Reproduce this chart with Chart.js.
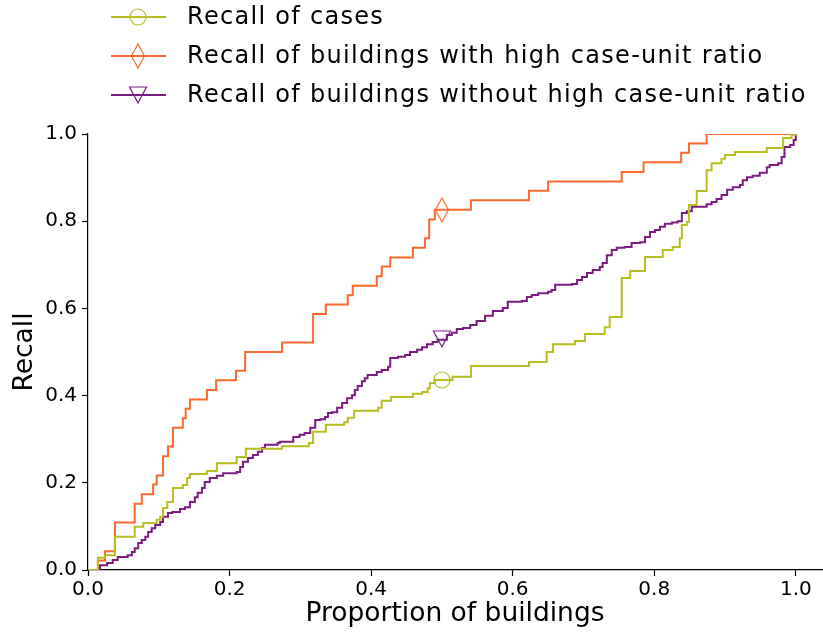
<!DOCTYPE html>
<html>
<head>
<meta charset="utf-8">
<script src="https://cdn.jsdelivr.net/npm/chart.js@4"></script>
<style>
  html, body { margin: 0; padding: 0; background: #fff; }
  #wrap { width: 823px; height: 633px; }
</style>
</head>
<body>
<div id="wrap"><canvas id="chart" width="823" height="633"></canvas></div>
<script>
// legend labels
const labels = [
  "Recall of cases",
  "Recall of buildings with high case-unit ratio",
  "Recall of buildings without high case-unit ratio"
]

// Recall of cases (step points: x where the step happens, new recall)
const casesX = [0, 0.014, 0.024, 0.038, 0.066, 0.078, 0.097, 0.102, 0.106, 0.112, 0.120, 0.134, 0.140, 0.144,
  0.168, 0.182, 0.210, 0.223, 0.274, 0.312, 0.318, 0.336, 0.362, 0.367, 0.376, 0.410, 0.415, 0.428, 0.459,
  0.472, 0.480, 0.483, 0.490, 0.515, 0.541, 0.623, 0.648, 0.657, 0.688, 0.702, 0.730, 0.737, 0.754, 0.766,
  0.787, 0.812, 0.826, 0.836, 0.839, 0.846, 0.849, 0.860, 0.874, 0.881, 0.895, 0.900, 0.914, 0.959, 0.982,
  0.994, 1.0]
const casesY = [0, 0.028, 0.034, 0.076, 0.099, 0.108, 0.115, 0.122, 0.142, 0.156, 0.188, 0.195, 0.211, 0.220,
  0.227, 0.245, 0.259, 0.278, 0.284, 0.291, 0.317, 0.333, 0.339, 0.349, 0.365, 0.372, 0.388, 0.397, 0.404,
  0.408, 0.417, 0.429, 0.436, 0.443, 0.468, 0.477, 0.500, 0.518, 0.525, 0.541, 0.557, 0.580, 0.670, 0.686,
  0.718, 0.734, 0.741, 0.761, 0.791, 0.798, 0.837, 0.869, 0.917, 0.933, 0.943, 0.952, 0.959, 0.968, 0.991,
  0.998, 1.0]

// Recall of buildings with high case-unit ratio
const highX = [0, 0.014, 0.024, 0.038, 0.066, 0.076, 0.092, 0.097, 0.106, 0.113, 0.120, 0.134, 0.138, 0.144,
  0.168, 0.181, 0.209, 0.222, 0.274, 0.318, 0.336, 0.367, 0.374, 0.408, 0.415, 0.427, 0.459, 0.476, 0.482,
  0.490, 0.541, 0.623, 0.650, 0.754, 0.785, 0.838, 0.849, 0.874, 1.0]
const highY = [0, 0.022, 0.043, 0.109, 0.152, 0.174, 0.196, 0.217, 0.261, 0.283, 0.326, 0.348, 0.370, 0.391,
  0.413, 0.435, 0.457, 0.500, 0.522, 0.587, 0.609, 0.630, 0.652, 0.674, 0.696, 0.717, 0.739, 0.761, 0.804,
  0.826, 0.848, 0.870, 0.891, 0.913, 0.935, 0.957, 0.978, 1.0, 1.0]

// Recall of buildings without high case-unit ratio
const otherX = [0, 0.017, 0.027, 0.035, 0.042, 0.056, 0.062, 0.066, 0.071, 0.076, 0.081, 0.085, 0.090, 0.095,
  0.102, 0.106, 0.113, 0.119, 0.130, 0.137, 0.144, 0.151, 0.155, 0.161, 0.165, 0.172, 0.182, 0.191, 0.210,
  0.215, 0.219, 0.226, 0.233, 0.240, 0.246, 0.250, 0.268, 0.271, 0.290, 0.299, 0.306, 0.314, 0.321, 0.328,
  0.335, 0.339, 0.345, 0.352, 0.359, 0.366, 0.373, 0.377, 0.381, 0.387, 0.391, 0.395, 0.408, 0.415, 0.424,
  0.427, 0.438, 0.448, 0.455, 0.465, 0.472, 0.479, 0.487, 0.494, 0.507, 0.514, 0.521, 0.530, 0.540, 0.549,
  0.561, 0.572, 0.586, 0.593, 0.613, 0.620, 0.627, 0.636, 0.650, 0.655, 0.660, 0.684, 0.691, 0.698, 0.705,
  0.713, 0.723, 0.727, 0.733, 0.740, 0.747, 0.758, 0.768, 0.780, 0.787, 0.794, 0.801, 0.808, 0.815, 0.825,
  0.833, 0.839, 0.846, 0.853, 0.874, 0.881, 0.888, 0.895, 0.903, 0.911, 0.921, 0.925, 0.931, 0.939, 0.949,
  0.959, 0.963, 0.975, 0.980, 0.984, 0.992, 0.997, 1.0]
const otherY = [0, 0.011, 0.016, 0.023, 0.030, 0.034, 0.041, 0.050, 0.062, 0.069, 0.076, 0.087, 0.096, 0.103,
  0.110, 0.122, 0.131, 0.133, 0.140, 0.144, 0.156, 0.167, 0.177, 0.188, 0.202, 0.211, 0.216, 0.222, 0.225,
  0.236, 0.248, 0.257, 0.264, 0.271, 0.280, 0.287, 0.291, 0.294, 0.305, 0.310, 0.314, 0.326, 0.344, 0.346,
  0.351, 0.360, 0.362, 0.372, 0.383, 0.394, 0.401, 0.413, 0.422, 0.433, 0.440, 0.447, 0.454, 0.459, 0.466,
  0.486, 0.489, 0.493, 0.500, 0.505, 0.511, 0.518, 0.523, 0.528, 0.539, 0.544, 0.553, 0.555, 0.562, 0.571,
  0.583, 0.594, 0.601, 0.615, 0.617, 0.626, 0.631, 0.635, 0.638, 0.642, 0.654, 0.656, 0.665, 0.672, 0.681,
  0.688, 0.695, 0.704, 0.722, 0.734, 0.739, 0.741, 0.750, 0.752, 0.764, 0.775, 0.780, 0.787, 0.794, 0.797,
  0.800, 0.819, 0.823, 0.833, 0.839, 0.844, 0.851, 0.860, 0.872, 0.878, 0.883, 0.894, 0.901, 0.904, 0.911,
  0.924, 0.929, 0.933, 0.947, 0.970, 0.975, 0.986, 1.0]

// single markers at half of the buildings
const markerX = [0.5, 0.5, 0.5]
const markerY = [0.436, 0.826, 0.53]

const xTicks = [0, 0.2, 0.4, 0.6, 0.8, 1.0]
const yTicks = [0, 0.2, 0.4, 0.6, 0.8, 1.0]

const colors = ["#b8bd23", "#fb6a2c", "#7b1c80"]
const FONT = "'DejaVu Sans', sans-serif"

function makeMarker(kind, color) {
  const c = document.createElement("canvas")
  c.width = 22
  c.height = 28
  const g = c.getContext("2d")
  g.strokeStyle = color
  g.lineWidth = 1.2
  g.beginPath()
  const cx = 11, cy = 14
  if (kind === "circle") {
    g.arc(cx, cy, 8, 0, Math.PI * 2)
  } else if (kind === "thin_diamond") {
    g.moveTo(cx, cy - 12)
    g.lineTo(cx + 6.5, cy)
    g.lineTo(cx, cy + 12)
    g.lineTo(cx - 6.5, cy)
    g.closePath()
  } else {
    g.moveTo(cx - 8.5, cy - 8)
    g.lineTo(cx + 8.5, cy - 8)
    g.lineTo(cx, cy + 8)
    g.closePath()
  }
  g.stroke()
  return c
}

const markers = [
  makeMarker("circle", colors[0]),
  makeMarker("thin_diamond", colors[1]),
  makeMarker("triangle_down", colors[2])
]

function pts(xs, ys) {
  return xs.map((x, i) => ({ x: x, y: ys[i] }))
}

const series = [pts(casesX, casesY), pts(highX, highY), pts(otherX, otherY)]

const datasets = []
series.forEach((d, i) => {
  datasets.push({
    label: labels[i],
    data: d,
    borderColor: colors[i],
    borderWidth: 2,
    stepped: "before",
    pointRadius: 0,
    fill: false
  })
})
markerX.forEach((x, i) => {
  datasets.push({
    label: labels[i] + " marker",
    data: [{ x: x, y: markerY[i] }],
    showLine: false,
    pointStyle: markers[i],
    pointRadius: 8,
    borderColor: colors[i]
  })
})

// legend drawn at fixed place, line + marker like the original figure
const lineLegend = {
  id: "lineLegend",
  afterDraw(chart) {
    const ctx = chart.ctx
    const rows = [17, 56, 95]
    ctx.save()
    labels.forEach((text, i) => {
      const y = rows[i]
      ctx.strokeStyle = colors[i]
      ctx.lineWidth = 2
      ctx.beginPath()
      ctx.moveTo(111, y)
      ctx.lineTo(166, y)
      ctx.stroke()
      ctx.drawImage(markers[i], 138 - 11, y - 14)
      ctx.fillStyle = "#000"
      ctx.font = "24px " + FONT
      ctx.letterSpacing = "1.3px"
      ctx.textBaseline = "middle"
      ctx.textAlign = "left"
      ctx.fillText(text, 187, y + 1)
    })
    ctx.restore()
  }
}

const ctx = document.getElementById("chart").getContext("2d")
new Chart(ctx, {
  type: "line",
  data: { datasets: datasets },
  plugins: [lineLegend],
  options: {
    responsive: false,
    animation: false,
    layout: { autoPadding: false, padding: { top: 134, right: 1, left: 0, bottom: 0 } },
    plugins: { legend: { display: false }, tooltip: { enabled: false } },
    scales: {
      x: {
        type: "linear",
        min: 0,
        max: 1.037,
        afterBuildTicks: (s) => { s.ticks = xTicks.map((v) => ({ value: v })) },
        afterFit: (s) => { s.height = 63 },
        grid: { drawOnChartArea: false, drawTicks: true, tickLength: 6, color: "#000", tickWidth: 1.2 },
        border: { display: true, color: "#000", width: 1.2 },
        ticks: {
          color: "#000",
          font: { family: FONT, size: 20 },
          padding: 2,
          maxRotation: 0,
          callback: (v) => v.toFixed(1)
        },
        title: {
          display: true,
          text: "Proportion of buildings",
          color: "#000",
          font: { family: FONT, size: 26.5 },
          padding: { top: 0, bottom: 3 }
        }
      },
      y: {
        type: "linear",
        min: 0,
        max: 1,
        afterBuildTicks: (s) => { s.ticks = yTicks.map((v) => ({ value: v })) },
        afterFit: (s) => { s.width = 88 },
        grid: { drawOnChartArea: false, drawTicks: true, tickLength: 6, color: "#000", tickWidth: 1.2 },
        border: { display: true, color: "#000", width: 1.2 },
        ticks: {
          color: "#000",
          font: { family: FONT, size: 20 },
          padding: 5,
          callback: (v) => v.toFixed(1)
        },
        title: {
          display: true,
          text: "Recall",
          color: "#000",
          font: { family: FONT, size: 26.5 },
          padding: { top: 9, bottom: 0 }
        }
      }
    }
  }
})
</script>
</body>
</html>
